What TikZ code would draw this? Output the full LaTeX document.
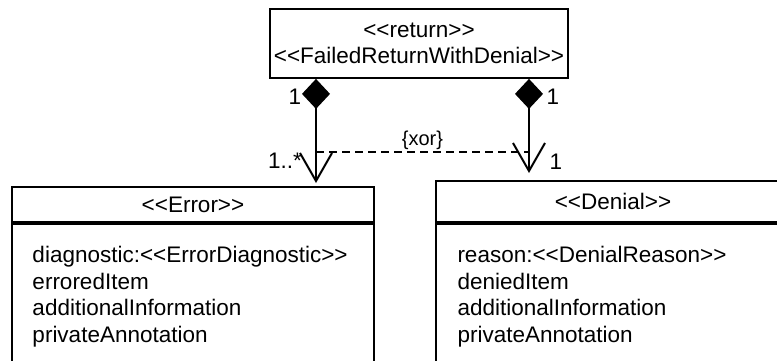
\documentclass[tikz,border=0pt]{standalone}
\usepackage{fontspec}
\setmainfont{Liberation Sans}[Ligatures=TeXOff]
\usetikzlibrary{arrows.meta,positioning}
\tikzset{
  classbox/.style={draw,line width=0.9pt,inner sep=0pt,align=center},
  attrs/.style={inner sep=0pt,align=left,anchor=north west},
  comp/.style={line width=1pt,{Diamond[length=15pt,width=14pt]}-{Straight Barb[length=14pt,width=16pt,line width=1pt]}},
  xorline/.style={line width=0.75pt,dash pattern=on 4pt off 2.5pt},
  card/.style={inner sep=0pt},
}
\begin{document}
\begin{tikzpicture}[x=0.5pt,y=-0.5pt,font=\fontsize{11.25}{13.25}\selectfont]
  \useasboundingbox (0,0) rectangle (777,360);
  \clip (0,0) rectangle (777,360);

  % the return class on top
  \node[classbox,minimum width=149pt,minimum height=34.5pt] (ret) at (419,43.5)
    {<<return>>\\<<FailedReturnWithDenial>>};

  % error class (cut off at the bottom)
  \node[classbox,minimum width=181pt,minimum height=17.5pt] (errh) at (193,204.5) {<<Error>>};
  \node[classbox,minimum width=181pt,minimum height=80pt,anchor=north] (errb) at (errh.south) {};
  \node[attrs] (erra) at ([xshift=10.5pt,yshift=-11.5pt]errb.north west)
    {diagnostic:<<ErrorDiagnostic>>\\erroredItem\\additionalInformation\\privateAnnotation};

  % denial class (cut off at the right and bottom)
  \node[classbox,minimum width=177pt,minimum height=20.5pt] (denh) at (613,201.5) {<<Denial>>};
  \node[classbox,minimum width=177pt,minimum height=80pt,anchor=north] (denb) at (denh.south) {};
  \node[attrs] (dena) at ([xshift=11pt,yshift=-11.5pt]denb.north west)
    {reason:<<DenialReason>>\\deniedItem\\additionalInformation\\privateAnnotation};

  % compositions
  \coordinate (lend) at (316,183);
  \coordinate (rend) at (529,173);
  \draw[comp] (ret.south -| lend) -- (lend);
  \draw[comp] (ret.south -| rend) -- (rend);

  % xor constraint
  \coordinate (xl) at (316,152);
  \coordinate (xr) at (529,152);
  \draw[xorline] (xl) -- node[card,above=1pt,font=\fontsize{10}{12}\selectfont] (xor) {\{xor\}} (xr);

  % multiplicities
  \node[card] (m1) at (295,97) {1};
  \node[card] (m2) at (553,97) {1};
  \node[card] (m3) at (285,161) {1..*};
  \node[card] (m4) at (556,162) {1};
\end{tikzpicture}
\end{document}
